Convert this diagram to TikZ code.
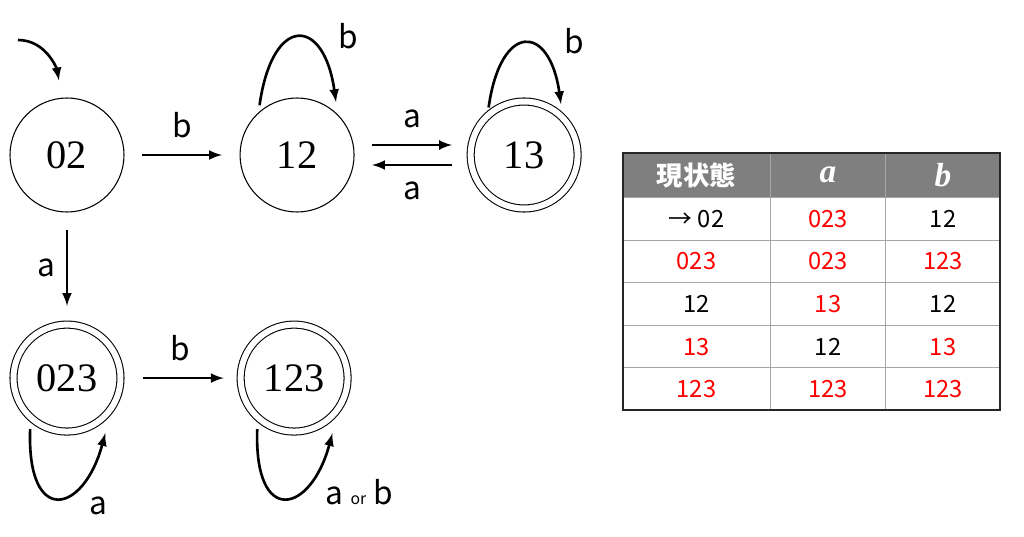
\documentclass[tikz,border=0pt]{standalone}
\usepackage{fontspec}
\usepackage{tikz}
\usetikzlibrary{automata, positioning, arrows, fit, matrix}
\setmainfont{Liberation Serif}
\setsansfont{Noto Sans CJK JP}
\definecolor{headgray}{RGB}{127,127,127}
\definecolor{hitred}{RGB}{255,0,0}
\newcommand{\Input}[1]{{\rmfamily\bfseries\itshape #1}}
\tikzset{
    every state/.append style={minimum size=2.28cm, line width=0.6pt, font=\fontsize{23}{27}\selectfont},
    accepting by double/.append style={minimum size=2.14cm, double distance=3.4pt},
    move/.style={->, >=latex, line width=1.5pt, shorten >=10pt, shorten <=10pt},
    sym/.style={font=\sffamily\fontsize{18}{22}\selectfont, inner sep=9pt},
    cell/.style={draw=gray!70, line width=0.6pt, anchor=center, minimum height=0.852cm, font=\sffamily\fontsize{13.5}{16}\selectfont},
    hit/.style={text=hitred},
}
\begin{document}
\begin{tikzpicture}
    \tikzset{
      node distance=2.3cm
    }
    \useasboundingbox (0,0) rectangle (20.48,-10.74);

    \node[state] at (1.34,-3.10) (q02) {02};
    \node[state, right=of q02] (q12) {12};
    \node[state, accepting, right=of q12] (q13) {13};
    \node[state, accepting, below=2.22cm of q02] (q023) {023};
    \node[state, accepting, right=2.36cm of q023] (q123) {123};

    \coordinate (start) at (0.36,-0.80);
    \draw (start) edge[move, shorten <=0pt, out=0, in=100] (q02.95);

    \draw (q02) edge[move] node[sym, auto]{b} (q12);
    \draw ([yshift=0.2cm]q12.east) edge[move] node[sym, auto]{a} ([yshift=0.2cm]q13.west);
    \draw ([yshift=-0.2cm]q13.west) edge[move] node[sym, auto]{a} ([yshift=-0.2cm]q12.east);
    \draw (q02) edge[move] node[sym, left, inner sep=6pt]{a} (q023);
    \draw (q023) edge[move, shorten <=12pt, shorten >=9pt] node[sym, auto]{b} (q123);

    \draw (q12.132) edge[move, shorten <=4pt, shorten >=7pt, out=82, in=98, looseness=3.2]
      node[sym, pos=0.78, above right=-2pt]{b} (q12.45);
    \draw (q13.132) edge[move, shorten <=4pt, shorten >=7pt, out=82, in=98, looseness=3.2]
      node[sym, pos=0.78, above right=-2pt]{b} (q13.45);
    \draw (q023.228) edge[move, shorten <=6pt, shorten >=14pt, out=268, in=255, looseness=3.4]
      node[sym, pos=0.66, below right=-3pt]{a} (q023.325);
    \draw (q123.228) edge[move, shorten <=6pt, shorten >=14pt, out=268, in=255, looseness=3.4]
      node[sym, pos=0.76, below right=-5pt]{a {\fontsize{9}{10}\selectfont or} b} (q123.325);

    % transition table
    \matrix[matrix of nodes, anchor=north west, inner sep=0pt, outer sep=0pt,
      column sep=-0.6pt, row sep=-0.6pt,
      nodes={cell},
      column 1/.style={nodes={minimum width=2.96cm}},
      column 2/.style={nodes={minimum width=2.30cm}},
      column 3/.style={nodes={minimum width=2.30cm}},
      row 1/.style={nodes={fill=headgray, text=white, minimum height=0.9cm}}]
      (tab) at (12.44,-3.04) {
      |[font=\sffamily\bfseries\fontsize{15}{18}\selectfont]| 現状態 & |[font=\fontsize{19}{22}\selectfont]| \Input{a} & |[font=\fontsize{19}{22}\selectfont]| \Input{b} \\
      → 02 & |[hit]| 023 & 12 \\
      |[hit]| 023 & |[hit]| 023 & |[hit]| 123 \\
      12 & |[hit]| 13 & 12 \\
      |[hit]| 13 & 12 & |[hit]| 13 \\
      |[hit]| 123 & |[hit]| 123 & |[hit]| 123 \\
    };
    \node[draw=black!85, line width=1.6pt, inner sep=-0.3pt, fit=(tab-1-1)(tab-6-3)] (frame) {};

  \end{tikzpicture}
\end{document}
